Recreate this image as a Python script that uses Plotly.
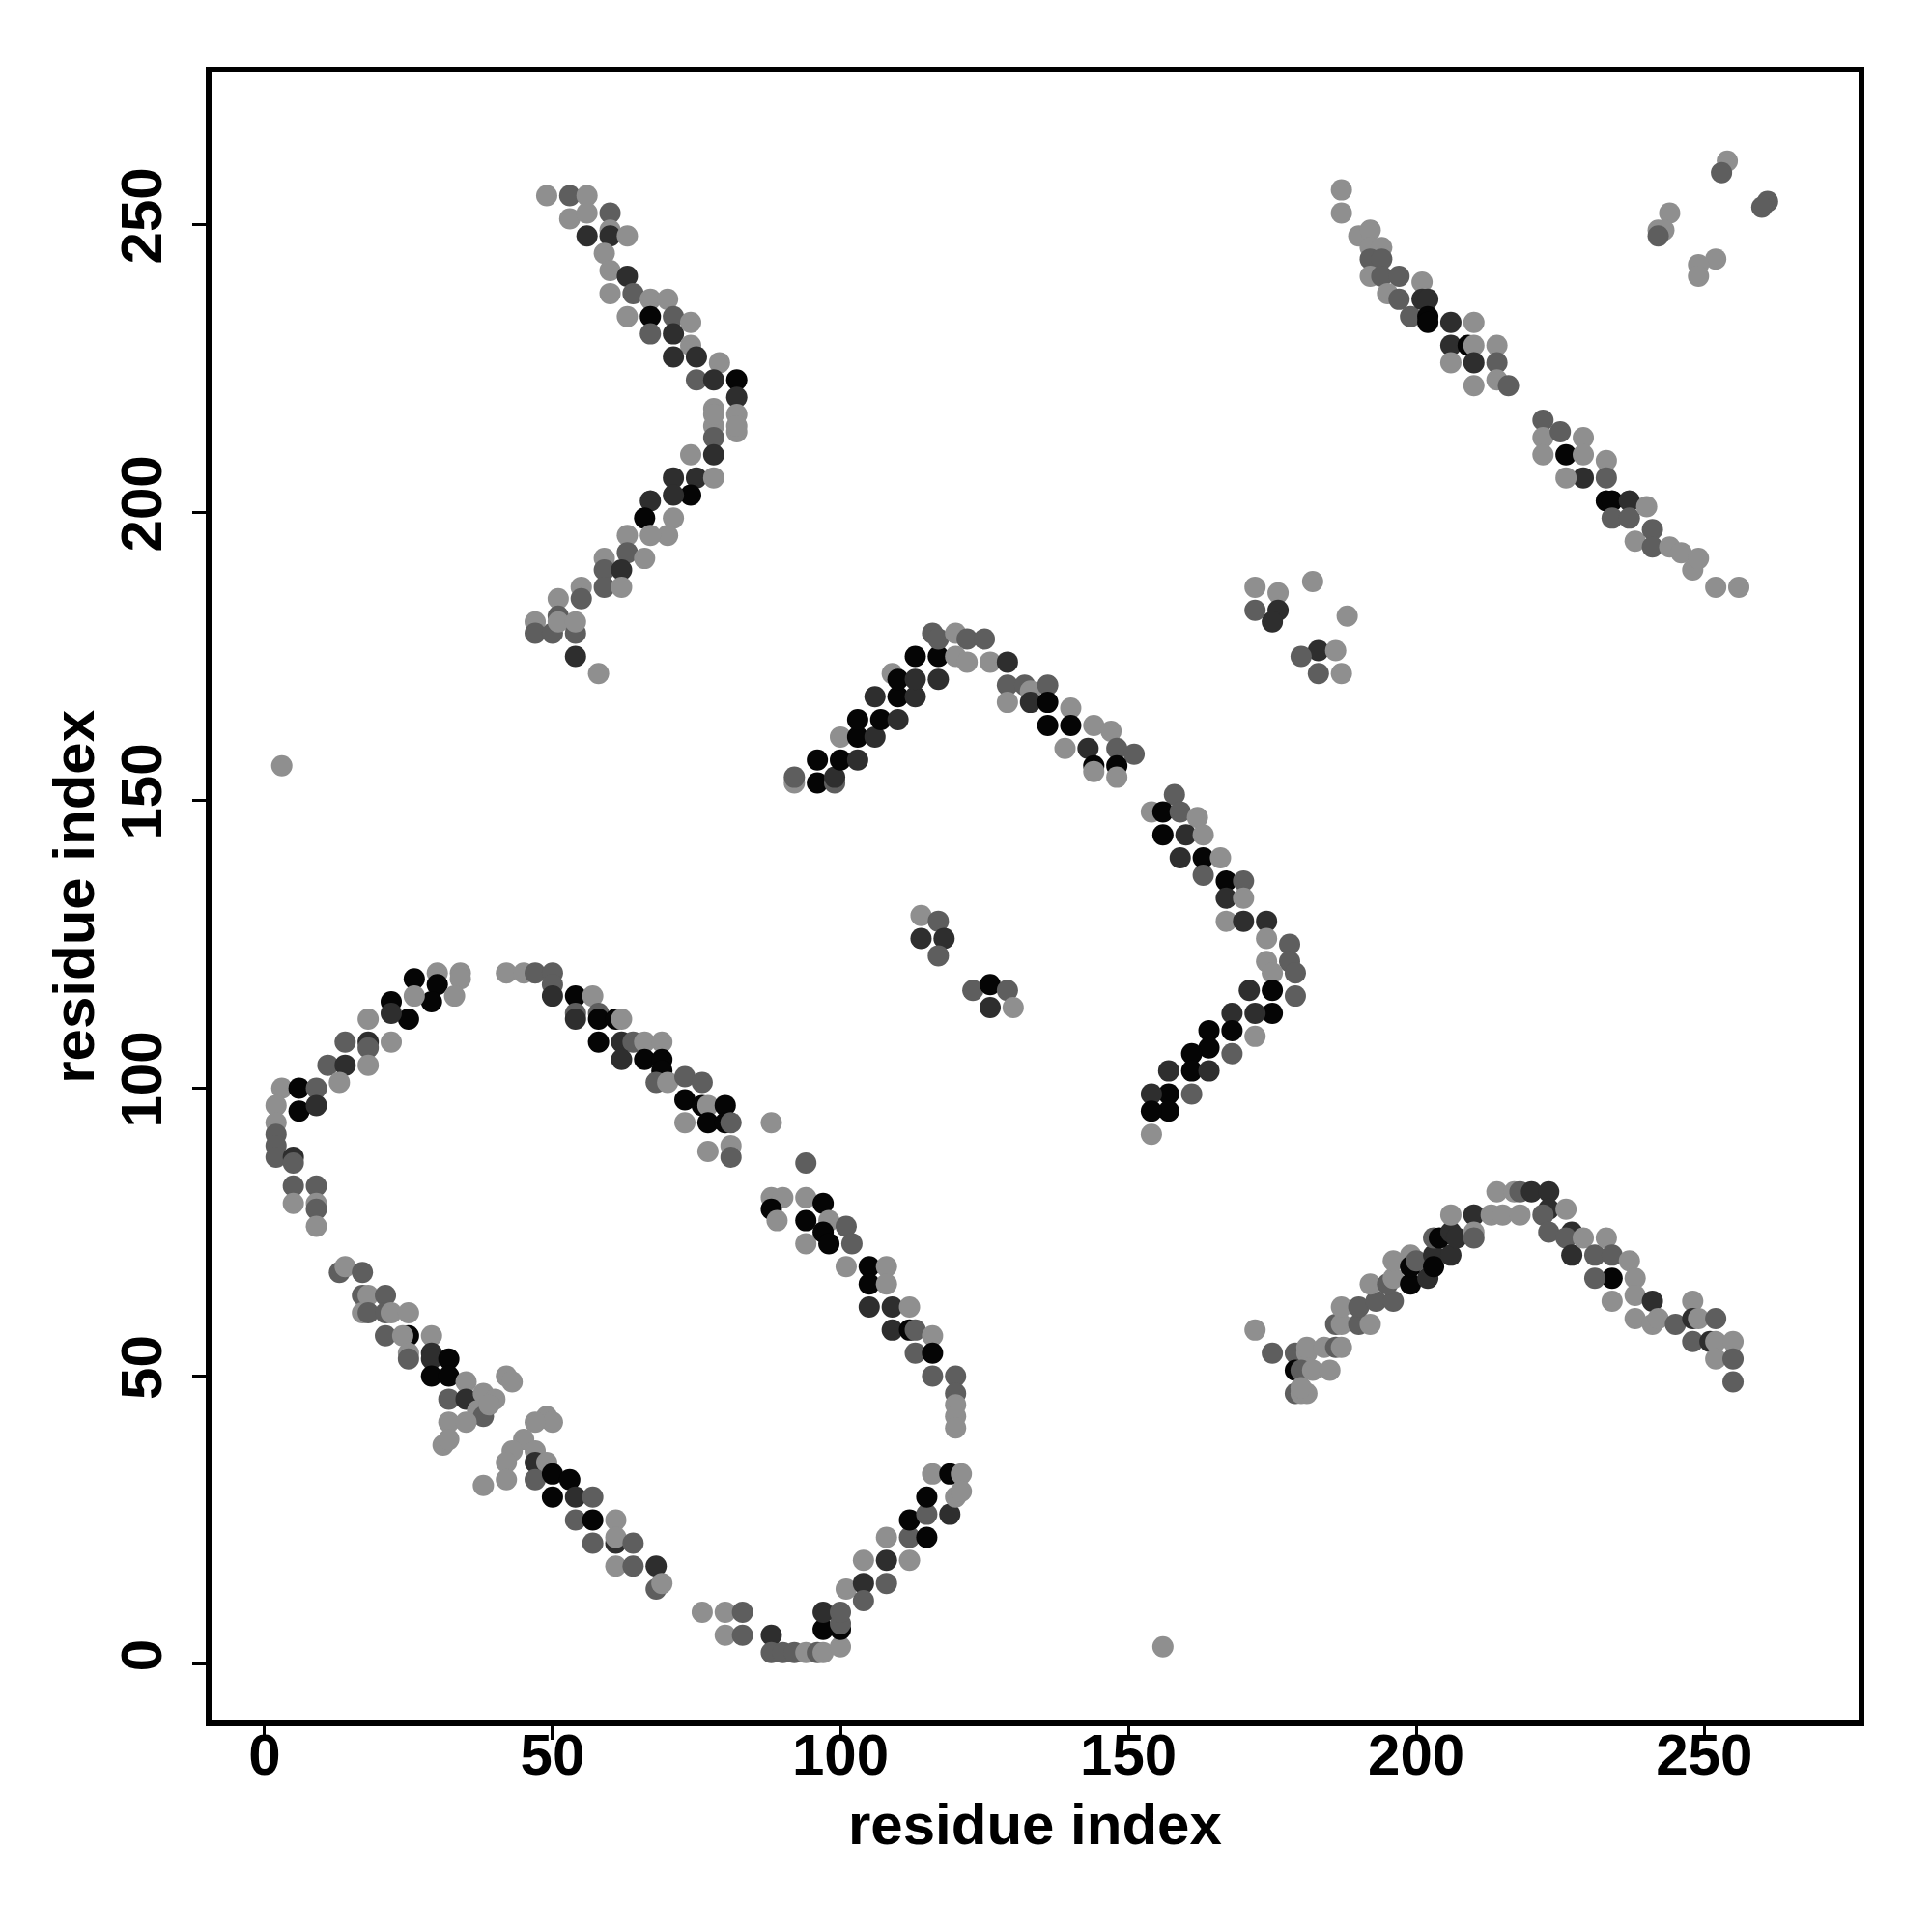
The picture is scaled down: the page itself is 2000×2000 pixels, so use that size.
import plotly.graph_objects as go

# contact points: (residue i, residue j, shade code)  K=black, D=dark, M=mid, L=light
L, M, D, K = 0.0, 0.5, 0.8, 1.0

arc_top_left = [
    (49,255,L),(53,255,M),(56,255,L),(53,251,L),(56,252,L),(60,252,M),(60,249,L),(56,248,D),(60,248,D),(63,248,L),
    (59,245,L),(60,242,L),(63,241,D),(60,238,L),(64,238,M),(67,237,L),(70,237,L),(63,234,L),(67,234,K),(71,234,M),
    (67,231,M),(71,231,D),(74,233,L),(74,229,L),(71,227,D),(75,227,D),(79,226,L),(75,223,M),(78,223,D),(82,223,K),
    (82,220,D),(78,218,L),(82,217,L),(78,215,L),(82,214,L),(82,215,L),(78,217,L),(78,213,M),(78,210,D),(74,210,L),
    (75,206,D),(71,206,D),(78,206,L),(74,203,K),(71,203,D),(67,202,D),(66,199,K),(71,199,L),(70,196,L),(67,196,L),
    (63,196,L),(63,193,M),(59,192,L),(66,192,L),(59,190,M),(62,190,D),(55,187,L),(59,187,M),(62,187,L),(51,185,L),
    (55,185,M),(47,181,L),(51,182,M),(47,179,M),(50,179,M),(51,181,L),(54,179,M),(54,181,L),(54,175,D),(58,172,L),
    (3,156,L),
]

ring_low_left = [
    (34,120,L),(34,119,L),(30,120,L),(26,119,K),(30,118,K),(29,115,K),(26,116,L),(25,112,K),(22,115,K),(22,113,D),
    (18,112,L),(33,116,L),(14,108,M),(18,108,D),(22,108,L),(18,107,M),(11,104,M),(14,104,D),(18,104,L),(13,101,L),
    (3,100,L),(6,100,K),(9,100,M),(2,97,L),(6,96,K),(9,97,D),(2,94,L),(2,92,M),(2,90,M),(2,88,M),(5,88,D),
    (42,120,L),(45,120,L),(47,120,M),(50,120,M),(50,118,M),(50,116,D),(54,116,K),(57,116,L),(54,113,M),(54,112,D),
    (58,113,M),(58,112,K),(61,112,K),(62,112,L),(58,108,K),(62,108,D),(64,108,M),(66,108,L),(69,108,L),(62,105,D),
    (66,105,K),(69,105,K),(69,103,K),(68,101,M),(70,101,L),(73,102,M),(76,101,M),(73,98,K),(76,97,K),(77,97,L),
    (80,97,K),(73,94,L),(77,94,K),(80,94,K),(81,94,M),(77,89,L),(81,90,L),(81,88,M),(88,94,L),
    (5,87,M),(5,83,M),(9,83,M),(5,80,L),(9,80,L),(9,79,M),(9,76,L),(13,68,M),(14,69,L),(17,68,M),
    (17,64,M),(18,64,L),(21,64,M),(17,61,L),(18,61,M),(21,61,M),(22,61,L),(25,61,L),(21,57,M),(25,57,K),
    (24,57,L),(29,57,L),(25,54,L),(25,53,M),(29,54,D),(29,53,D),(32,53,K),(29,50,K),(32,50,K),(35,49,L),
    (32,46,M),(35,46,D),(38,47,L),(37,44,L),(38,43,M),(32,42,L),(35,42,L),(31,38,L),(32,39,L),(42,50,L),
    (43,49,L),(40,46,L),(39,45,L),(49,43,L),(50,42,L),(47,42,L),(45,39,L),(47,37,L),(43,37,L),(42,35,L),
    (47,35,D),(49,35,L),(47,32,M),(42,32,L),(38,31,L),(50,33,K),(53,32,K),(50,29,K),(54,29,D),(57,29,M),
    (54,25,M),(57,25,K),(61,25,L),(57,21,M),(61,21,D),(61,22,L),(64,21,M),(61,17,L),(64,17,M),(68,17,D),
    (68,13,M),(69,14,L),(76,9,L),(80,9,L),(83,9,M),(80,5,L),(83,5,M),(88,5,D),(88,2,M),
    (90,2,M),(92,2,M),(94,2,L),(96,2,M),(97,2,L),(100,3,L),(97,6,K),(100,6,K),(100,7,M),(97,9,D),
    (100,9,M),(101,13,L),(104,14,D),(104,11,M),(108,14,M),(104,18,L),(108,18,D),(108,22,L),(112,18,L),(112,22,M),
    (112,25,K),(115,22,K),(115,26,M),(115,29,K),(116,33,L),(119,26,D),(120,29,L),(119,33,K),(121,33,L),(121,30,L),
    (94,87,M),(88,81,L),(90,81,L),(88,79,K),(89,77,L),(94,81,L),(97,80,K),(94,77,K),(94,73,L),(98,77,L),
    (97,75,K),(98,73,K),(101,76,M),(102,73,M),(101,69,L),(105,69,K),(105,66,K),(108,69,L),(108,66,L),(105,62,D),
    (109,62,D),(112,62,L),(109,58,D),(112,58,K),(113,58,M),(116,57,L),(113,54,M),(116,54,K),(116,50,M),(120,50,M),
    (120,47,M),(120,45,L),(120,43,L),(120,41,L),
]

arc_low_right = [
    (172,58,L),(175,54,M),(179,54,M),(181,54,L),(179,51,K),(180,51,M),(179,47,M),(180,47,L),(156,3,L),
    (181,47,L),(180,48,L),(182,51,L),(185,51,L),(181,55,L),(184,55,L),(186,55,M),(187,55,L),(186,59,M),(187,59,L),
    (190,59,M),(192,59,L),(187,62,L),(190,62,M),(193,63,M),(196,63,M),(192,66,L),(195,66,M),(196,67,L),(199,66,K),
    (202,67,D),(196,70,L),(199,71,L),(199,69,K),(200,70,M),(203,71,D),(203,69,K),(206,71,D),(203,74,M),(204,74,K),
    (206,75,D),(207,74,D),(206,78,L),(210,78,D),(210,75,L),(210,74,M),(213,78,L),(215,78,L),(218,78,L),(214,82,L),
    (217,82,L),(218,82,M),(220,82,D),(223,82,D),(223,79,D),(222,78,M),(226,79,L),(223,75,M),(227,75,D),(226,74,M),
    (227,71,D),(229,74,L),(231,71,M),(233,74,L),(234,71,M),(237,70,L),(234,67,K),(231,67,M),(238,67,L),(234,63,L),
    (238,64,L),(241,63,D),(238,60,L),(241,59,L),(242,60,L),(245,59,M),(248,63,L),(248,60,D),(249,60,L),(252,60,M),
    (248,56,M),(251,56,D),(252,56,L),(255,56,L),(252,53,L),(255,53,M),(255,49,M),
]

arc_middle = [
    (92,153,L),(92,154,M),(96,153,K),(99,153,M),(99,154,D),(96,157,K),(100,157,K),(103,157,D),(100,161,L),(103,161,K),
    (106,161,D),(103,164,K),(107,164,K),(110,164,D),(106,168,D),(110,168,K),(113,168,D),(109,172,L),(110,171,K),(113,171,D),
    (113,175,K),(117,175,K),(117,171,D),(116,179,M),(117,178,M),(120,179,L),(122,178,M),(125,178,M),(120,175,L),(122,174,L),
    (126,174,L),(129,174,D),(129,170,M),(129,167,L),(132,170,M),(133,169,L),(136,170,M),(133,167,D),(136,167,K),(140,166,L),
    (136,163,K),(140,163,K),(144,163,L),(147,162,L),(139,159,L),(143,159,D),(148,159,M),(151,158,M),(144,156,K),(148,156,K),
    (148,154,L),(144,155,L),
    (158,151,M),(154,148,L),(156,148,K),(159,148,M),(162,147,L),(156,144,K),(160,144,D),(163,144,L),(159,140,D),(163,140,K),
    (166,140,L),(163,137,M),(167,136,K),(170,136,M),(167,133,D),(170,133,L),(167,129,L),(170,129,D),(174,129,D),(174,126,L),
    (178,125,M),(174,122,L),(178,122,M),(175,120,L),(179,120,M),(179,116,M),(175,117,K),(171,117,D),(175,113,K),(172,113,D),
    (168,113,D),(172,109,L),(168,110,K),(164,110,K),(168,106,M),(164,107,K),(161,106,K),(161,103,K),(164,103,D),(157,103,D),
    (157,99,K),(161,99,M),(154,99,D),(157,96,K),(154,96,K),(154,92,L),
    (114,130,L),(117,129,M),(114,126,D),(118,126,D),(117,123,M),(123,117,M),(126,118,K),(129,117,M),(126,114,D),(130,114,L),
]

upper_right = [
    (172,187,L),(176,186,L),(172,183,M),(176,183,D),(175,181,D),(182,188,L),(188,182,L),(183,176,D),(186,176,L),(183,172,M),
    (187,172,L),(180,175,M),
    (187,256,L),(187,252,L),(190,248,L),(192,249,L),(192,246,L),(194,246,L),(192,244,M),(194,244,M),(192,241,L),(194,241,M),
    (197,241,M),(195,238,L),(197,237,M),(201,240,L),(199,234,M),(201,237,D),(202,237,D),(202,234,K),(202,233,K),(206,233,D),
    (210,233,L),(206,229,D),(209,229,K),(210,229,L),(214,229,L),(206,226,L),(210,226,D),(214,226,M),(210,222,L),(214,223,L),
    (216,222,M),(222,216,M),(222,213,L),(222,210,L),(225,214,M),(226,210,K),(229,213,L),(229,210,L),(229,206,D),(226,206,L),
    (233,209,L),(233,206,M),(233,202,K),(234,202,K),(237,202,D),(234,199,M),(237,199,M),(240,201,L),(238,195,L),(241,197,M),
    (241,194,M),(244,194,L),(246,193,L),(248,190,L),(249,192,L),(252,187,L),(256,187,L),
    (254,261,L),(253,259,M),(261,254,M),(260,253,M),(244,252,L),(242,249,L),(243,249,L),(242,248,M),(252,244,L),(249,243,L),
    (249,241,L),
]

groups = [arc_top_left, ring_low_left, arc_low_right, arc_middle, upper_right]
res_i = [p[0] for g in groups for p in g]
res_j = [p[1] for g in groups for p in g]
score = [p[2] for g in groups for p in g]

tick_vals = [0, 50, 100, 150, 200, 250]
tick_text = ["0", "50", "100", "150", "200", "250"]

FONT = "Liberation Sans, Arial, sans-serif"

fig = go.Figure()
fig.add_trace(go.Scatter(
    x=res_i, y=res_j, mode="markers",
    marker=dict(size=22, color=score, cmin=0, cmax=1,
                colorscale=[[0, "#8f8f8f"], [0.5, "#5e5e5e"], [0.8, "#2e2e2e"], [1, "#050505"]],
                line=dict(width=0), showscale=False),
    hoverinfo="x+y", showlegend=False,
))

axis_common = dict(
    showgrid=False, zeroline=False, showline=True, linecolor="black", linewidth=6,
    mirror=True, ticks="outside", ticklen=14, tickwidth=3, tickcolor="black",
    tickvals=tick_vals, ticktext=tick_text,
    tickfont=dict(family=FONT, size=60, color="black", weight="bold"),
)

fig.update_layout(
    width=2000, height=2000,
    margin=dict(l=211, r=84, t=67, b=227),
    paper_bgcolor="white", plot_bgcolor="white",
    xaxis=dict(range=[-9.2, 276.8], ticklabelstandoff=-36, **axis_common),
    yaxis=dict(range=[-9.8, 276.4], tickangle=-90, ticklabelstandoff=8, **axis_common),
    annotations=[
        dict(text="residue index", x=0.5, y=-0.063, xref="paper", yref="paper",
             xanchor="center", yanchor="middle", showarrow=False,
             font=dict(family=FONT, size=60, color="black", weight="bold")),
        dict(text="residue index", x=-0.084, y=0.5, xref="paper", yref="paper",
             xanchor="center", yanchor="middle", showarrow=False, textangle=-90,
             font=dict(family=FONT, size=60, color="black", weight="bold")),
    ],
)

fig.write_html("out.html")
